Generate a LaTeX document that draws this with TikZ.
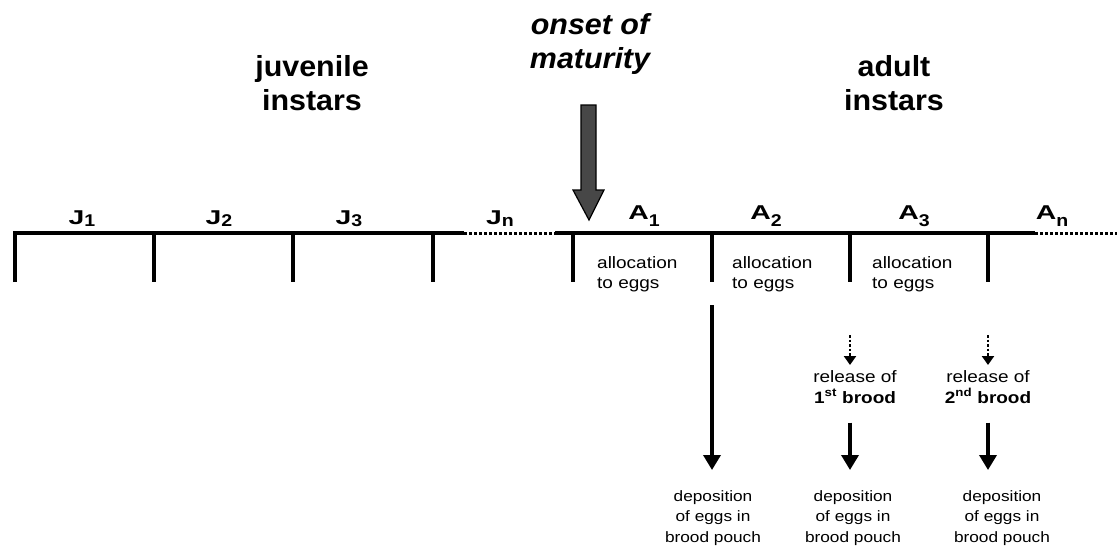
\documentclass[tikz,border=0pt]{standalone}
\usepackage{fontspec}
\setmainfont{Liberation Sans}[FakeStretch=1.05]
\newfontfamily\stagefont{Liberation Sans}[FakeStretch=1.42]
\newfontfamily\notefont{Liberation Sans}[FakeStretch=1.15]
\usetikzlibrary{positioning,arrows.meta,calc}
\tikzset{
    x=1pt,
    y=1pt,
    timeline/.style = {
        line width=3.5pt
    },
    gap/.style = {
        line width=3pt,
        dash pattern=on 3pt off 2pt
    },
    tickmark/.style = {
        line width=3.5pt
    },
    heading/.style = {
        font=\fontsize{29}{34}\selectfont\bfseries,
        align=center,
        anchor=north,
        inner sep=0pt
    },
    instar/.style = {
        anchor=base,
        inner sep=0pt
    },
    alloc/.style = {
        font=\notefont\fontsize{16.5}{20}\selectfont,
        align=left,
        anchor=north west,
        inner sep=0pt
    },
    release/.style = {
        font=\notefont\fontsize{16.5}{21}\selectfont,
        align=center,
        inner sep=0pt
    },
    deposit/.style = {
        font=\notefont\fontsize{15}{20.5}\selectfont,
        align=center,
        inner sep=0pt
    },
    maturity/.style = {
        draw=black,
        line width=1.2pt,
        fill=black!72
    },
    solidarrow/.style = {
        line width=3.5pt,
        -{Triangle[width=17pt,length=15pt]}
    },
    dotarrow/.style = {
        line width=2.5pt,
        dash pattern=on 2.5pt off 2pt,
        -{Triangle[width=12pt,length=9pt]}
    },
}
\newcommand{\subnum}[2]{\raisebox{-#2}{\notefont\fontsize{17}{17}\selectfont\bfseries #1}}
\newcommand{\juv}[1]{{\stagefont\fontsize{20}{20}\selectfont\bfseries J}\subnum{#1}{2.5pt}}
\newcommand{\adu}[1]{{\stagefont\fontsize{20}{20}\selectfont\bfseries A}\subnum{#1}{7pt}}

\begin{document}
\begin{tikzpicture}
    \useasboundingbox (0,0) rectangle (1117,-547);

    % headings
    \node[heading] (juv) at (312,-55) {juvenile\\instars};
    \node[heading, font=\fontsize{29}{34}\selectfont\bfseries\itshape] (onset) at (590,-13) {onset of\\maturity};
    \node[heading] (adult) at (894,-55) {adult\\instars};

    % time axis
    \coordinate (j0) at (15,-233);
    \coordinate (j1) at (154,-233);
    \coordinate (j2) at (293,-233);
    \coordinate (j3) at (433,-233);
    \coordinate (jend) at (464,-233);
    \coordinate (astart) at (555,-233);
    \coordinate (a0) at (573,-233);
    \coordinate (a1) at (712,-233);
    \coordinate (a2) at (850,-233);
    \coordinate (a3) at (988,-233);
    \coordinate (aend) at (1035,-233);
    \coordinate (axisend) at (1117,-233);

    \draw[timeline] ($(j0)+(0,-49)$) -- (j0) -- (jend);
    \draw[gap] (jend) -- (astart);
    \draw[timeline] (astart) -- (aend);
    \draw[gap] (aend) -- (axisend);
    \foreach \t in {j1,j2,j3,a0,a1,a2,a3}
        \draw[tickmark] (\t) -- ++(0,-49) coordinate (\t b);

    % instars
    \node[instar] (J1) at (82,-224) {\juv{1}};
    \node[instar] (J2) at (219,-224) {\juv{2}};
    \node[instar] (J3) at (349,-224) {\juv{3}};
    \node[instar] (Jn) at (500,-224) {\juv{n}};
    \node[instar] (A1) at (644,-219) {\adu{1}};
    \node[instar] (A2) at (766,-219) {\adu{2}};
    \node[instar] (A3) at (914,-219) {\adu{3}};
    \node[instar] (An) at (1052,-219) {\adu{n}};

    % onset of maturity
    \coordinate (mtip) at (589,-220);
    \filldraw[maturity] (mtip) -- ++(-16,30) -- ++(8,0) -- ++(0,85) -- ++(15,0)
        -- ++(0,-85) -- ++(8,0) -- cycle;

    % allocation
    \node[alloc] (al1) at (597,-256) {allocation\\to eggs};
    \node[alloc] (al2) at (732,-256) {allocation\\to eggs};
    \node[alloc] (al3) at (872,-256) {allocation\\to eggs};

    % broods
    \node[release, below=88pt of a2b, xshift=5pt] (rel1) {release of\\\textbf{1\textsuperscript{st} brood}};
    \node[release, below=88pt of a3b] (rel2) {release of\\\textbf{2\textsuperscript{nd} brood}};

    \node[deposit, below=208pt of a1b, xshift=1pt] (dep1) {deposition\\of eggs in\\brood pouch};
    \node[deposit, below=208pt of a2b, xshift=3pt] (dep2) {deposition\\of eggs in\\brood pouch};
    \node[deposit, below=208pt of a3b, xshift=14pt] (dep3) {deposition\\of eggs in\\brood pouch};

    \draw[solidarrow, shorten <=23pt, shorten >=20pt] (a1b) -- (a1b |- dep1.north);
    \draw[dotarrow, shorten <=53pt, shorten >=5pt] (a2b) -- (a2b |- rel1.north);
    \draw[dotarrow, shorten <=53pt, shorten >=5pt] (a3b) -- (a3b |- rel2.north);
    \draw[solidarrow, shorten <=19pt, shorten >=20pt] (a2b |- rel1.south) -- (a2b |- dep2.north);
    \draw[solidarrow, shorten <=19pt, shorten >=20pt] (a3b |- rel2.south) -- (a3b |- dep3.north);
\end{tikzpicture}
\end{document}
